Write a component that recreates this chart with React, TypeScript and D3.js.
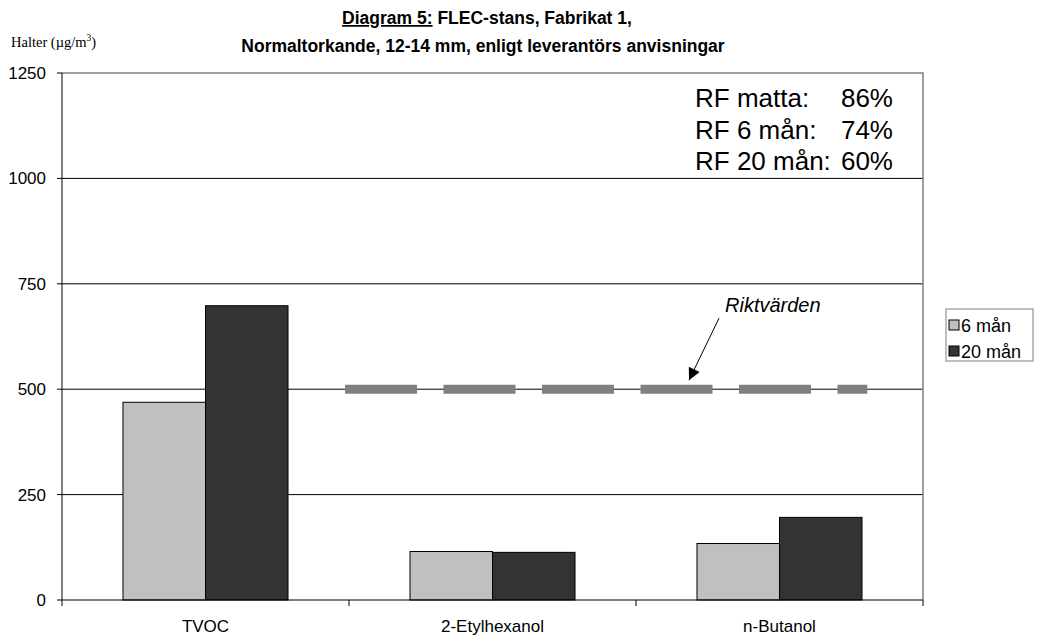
import React from "react";
import * as d3 from "d3";

// Emission levels (µg/m³) per compound and sampling time
const categories = ["TVOC", "2-Etylhexanol", "n-Butanol"];
const seriesNames = ["6 mån", "20 mån"];
const values6 = [469, 115, 134];
const values20 = [698, 113, 196];
const seriesColors = ["#c0c0c0", "#333333"];
const yTicks = [0, 250, 500, 750, 1000, 1250];
const guideValue = 500;
const rfLabels = ["RF matta:", "RF 6 mån:", "RF 20 mån:"];
const rfValues = ["86%", "74%", "60%"];

const W = 1038;
const H = 635;
const left = 62;
const right = 923;
const top = 73;
const bottom = 600;
const font = "Arial, 'Liberation Sans', sans-serif";

export default function App() {
  const x = d3.scaleBand<string>().domain(categories).range([left, right]);
  const bw = x.bandwidth();
  const x1 = d3
    .scaleBand<string>()
    .domain(seriesNames)
    .range([bw * 0.2125, bw * 0.7875]);
  const y = d3.scaleLinear().domain([0, 1250]).range([bottom, top]);
  const series = [values6, values20];

  const gx0 = (x("2-Etylhexanol") as number) - 4;
  const gx1 = (x("n-Butanol") as number) + bw * 0.806;
  const gy = y(guideValue);
  const tipX = (x("n-Butanol") as number) + 53;
  const tipY = gy - 9;

  return (
    <svg
      width={W}
      height={H}
      style={{ position: "absolute", left: 0, top: 0, background: "#fff" }}
      fontFamily={font}
    >
      <defs>
        <marker
          id="arrowHead"
          viewBox="0 0 10 10"
          refX="10"
          refY="5"
          markerWidth="13"
          markerHeight="12"
          markerUnits="userSpaceOnUse"
          orient="auto"
        >
          <path d="M0,0 L10,5 L0,10 z" fill="#000" />
        </marker>
      </defs>

      {/* title */}
      <text x={487} y={24} textAnchor="middle" fontSize={17.5} fontWeight="bold" fill="#000">
        <tspan textDecoration="underline">Diagram 5:</tspan>
        <tspan> FLEC-stans, Fabrikat 1,</tspan>
      </text>
      <text x={483} y={52} textAnchor="middle" fontSize={17.5} fontWeight="bold" fill="#000">
        Normaltorkande, 12-14 mm, enligt leverantörs anvisningar
      </text>

      {/* y unit */}
      <text x={11} y={47} fontSize={14.5} fontFamily="'Liberation Serif', 'Times New Roman', serif" fill="#000">
        Halter (µg/m<tspan dy={-6} fontSize={9.5}>3</tspan>
        <tspan dy={6}>)</tspan>
      </text>

      {/* gridlines */}
      {yTicks.slice(1, -1).map((t) => (
        <line key={t} x1={left} x2={right} y1={y(t)} y2={y(t)} stroke="#000" strokeWidth={1} />
      ))}
      {/* plot border top/right */}
      <path
        d={`M${left},${y(1250)} H${right} V${bottom}`}
        fill="none"
        stroke="#808080"
        strokeWidth={1.5}
      />

      {/* bars */}
      {categories.map((c, i) =>
        series.map((s, j) => (
          <rect
            key={c + j}
            x={(x(c) as number) + (x1(seriesNames[j]) as number)}
            y={y(s[i])}
            width={x1.bandwidth()}
            height={bottom - y(s[i])}
            fill={seriesColors[j]}
            stroke="#000"
            strokeWidth={1}
          />
        ))
      )}

      {/* guideline */}
      <line
        x1={gx0}
        x2={gx1}
        y1={gy}
        y2={gy}
        stroke="#808080"
        strokeWidth={9}
        strokeDasharray="72 26.5"
      />
      <line
        x1={tipX + 30}
        y1={tipY - 62}
        x2={tipX}
        y2={tipY}
        stroke="#000"
        strokeWidth={1}
        markerEnd="url(#arrowHead)"
      />
      <text x={725} y={312} fontSize={20} fontStyle="italic" fill="#000">
        Riktvärden
      </text>

      {/* axes */}
      <line x1={left} x2={left} y1={top} y2={bottom} stroke="#000" strokeWidth={1} />
      <line x1={left} x2={right} y1={bottom} y2={bottom} stroke="#000" strokeWidth={1} />
      {yTicks.map((t) => (
        <g key={t}>
          <line x1={left - 5} x2={left} y1={y(t)} y2={y(t)} stroke="#000" />
          <text x={46} y={y(t) + 6} textAnchor="end" fontSize={17} fill="#000">
            {t}
          </text>
        </g>
      ))}
      {[...categories.map((c) => x(c) as number), right].map((p, i) => (
        <line key={i} x1={p} x2={p} y1={bottom} y2={bottom + 6} stroke="#000" />
      ))}
      {categories.map((c) => (
        <text
          key={c}
          x={(x(c) as number) + bw / 2}
          y={632}
          textAnchor="middle"
          fontSize={17}
          fill="#000"
        >
          {c}
        </text>
      ))}

      {/* RF info */}
      {rfLabels.map((l, i) => (
        <g key={l}>
          <text x={695} y={107 + i * 31.5} fontSize={26} fill="#000">
            {l}
          </text>
          <text x={893} y={107 + i * 31.5} fontSize={26} textAnchor="end" fill="#000">
            {rfValues[i]}
          </text>
        </g>
      ))}

      {/* legend */}
      <rect x={946} y={309} width={87} height={52} fill="#fff" stroke="#808080" strokeWidth={1} />
      {seriesNames.map((n, i) => (
        <g key={n}>
          <rect
            x={949}
            y={320 + i * 26}
            width={10}
            height={10}
            fill={seriesColors[i]}
            stroke="#000"
            strokeWidth={1}
          />
          <text x={961} y={331.5 + i * 26} fontSize={18} fill="#000">
            {n}
          </text>
        </g>
      ))}
    </svg>
  );
}
